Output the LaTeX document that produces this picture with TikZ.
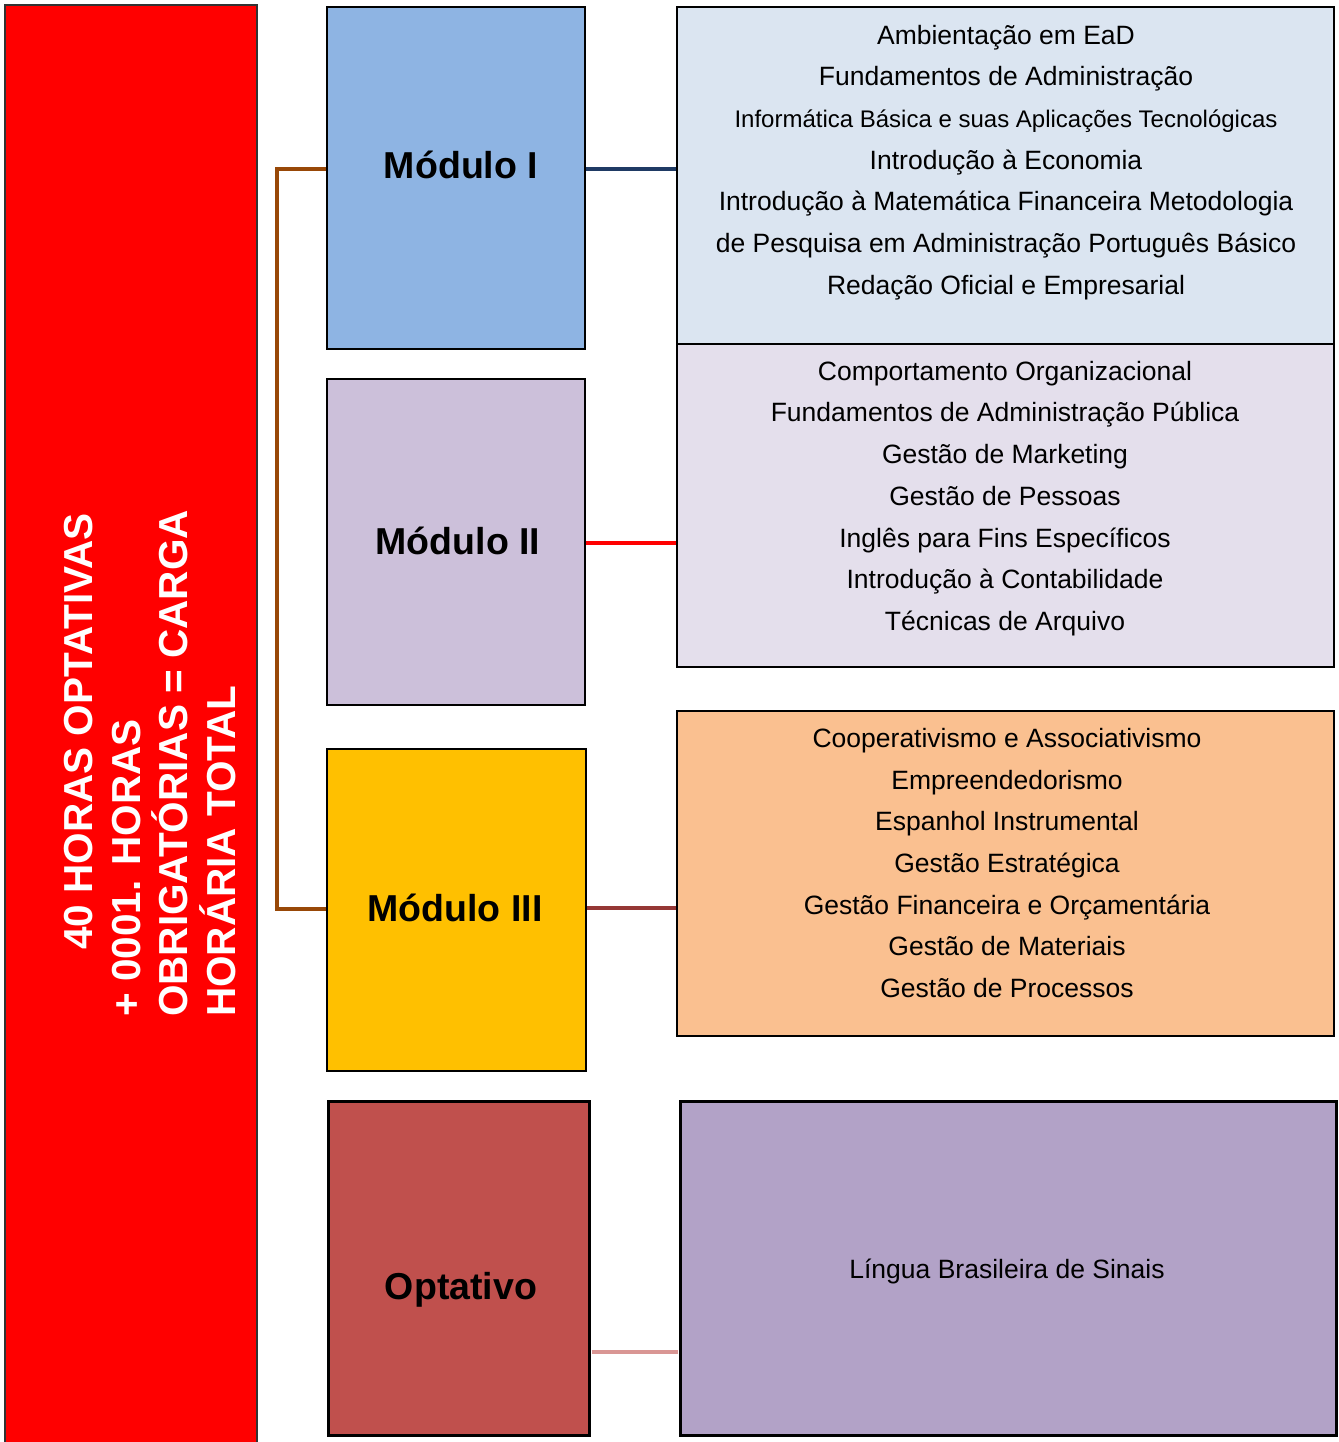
\documentclass[tikz,border=0pt]{standalone}
\usepackage{fontspec}
\setmainfont{Liberation Sans}
\definecolor{barred}{HTML}{FF0000}
\definecolor{mA}{HTML}{8EB4E3}
\definecolor{mB}{HTML}{CCC0DA}
\definecolor{mC}{HTML}{FFC000}
\definecolor{mD}{HTML}{C0504D}
\definecolor{rA}{HTML}{DBE5F1}
\definecolor{rB}{HTML}{E4DFEC}
\definecolor{rC}{HTML}{FAC090}
\definecolor{rD}{HTML}{B2A2C7}
\definecolor{brk}{HTML}{984807}
\definecolor{navy}{HTML}{1F3A64}
\definecolor{dred}{HTML}{953735}
\definecolor{pinkc}{HTML}{D99694}
\tikzset{
  box/.style={draw=black, line width=1.5pt, inner sep=0pt, rectangle},
  thickbox/.style={draw=black, line width=3pt, inner sep=0pt, rectangle},
  modlabel/.style={font=\fontsize{37.5}{45}\selectfont\bfseries, inner sep=0pt},
  listtext/.style={font=\fontsize{26.5}{41.7}\selectfont, align=center, inner sep=0pt},
  bartext/.style={font=\fontsize{40.5}{48}\selectfont\bfseries, text=white, rotate=90, anchor=base west, inner sep=0pt},
  conn/.style={line width=4pt},
}
\begin{document}
\begin{tikzpicture}[x=1pt,y=-1pt]
\useasboundingbox (0,0) rectangle (1338,1442);
% left bar
\node[draw=black!80, line width=1.5pt, fill=barred, minimum width=252pt, minimum height=1440pt, inner sep=0pt] (bar) at (131,725) {};
\node[bartext] (bl1) at (92,950) {40 HORAS OPTATIVAS};
\node[bartext] (bl2) at (140,1017) {+ 0001. HORAS};
\node[bartext] (bl3) at (187,1017) {OBRIGATÓRIAS = CARGA};
\node[bartext] (bl4) at (235,1017) {HORÁRIA TOTAL};
% module boxes
\node[box, fill=mA, minimum width=258pt, minimum height=342pt] (m1) at (456,178) {};
\node[box, fill=mB, minimum width=258pt, minimum height=326pt] (m2) at (456,542) {};
\node[box, fill=mC, minimum width=259pt, minimum height=322pt] (m3) at (456.5,910) {};
\node[thickbox, fill=mD, minimum width=261pt, minimum height=334pt] (m4) at (458.5,1268) {};
\node[modlabel] (l1) at (461,165) {Módulo I};
\node[modlabel] (l2) at (458,541) {Módulo II};
\node[modlabel] (l3) at (455,908) {Módulo III};
\node[modlabel] (l4) at (461,1290) {Optativo};
% right boxes
\node[box, fill=rA, minimum width=657pt, minimum height=337pt] (r1) at (1005.5,175.5) {};
\node[box, fill=rB, minimum width=657pt, minimum height=323pt] (r2) at (1005.5,505.5) {};
\node[box, fill=rC, minimum width=657pt, minimum height=325pt] (r3) at (1005.5,873.5) {};
\node[thickbox, fill=rD, minimum width=656pt, minimum height=334pt] (r4) at (1008,1268) {};
\node[listtext] (t1) at (1006,162.5) {Ambientação em EaD\\
Fundamentos de Administração\\
{\fontsize{24}{41.7}\selectfont Informática Básica e suas Aplicações Tecnológicas}\\
Introdução à Economia\\
Introdução à Matemática Financeira Metodologia\\
de Pesquisa em Administração Português Básico\\
Redação Oficial e Empresarial};
\node[listtext] (t2) at (1005,498.5) {Comportamento Organizacional\\
Fundamentos de Administração Pública\\
Gestão de Marketing\\
Gestão de Pessoas\\
Inglês para Fins Específicos\\
Introdução à Contabilidade\\
Técnicas de Arquivo};
\node[listtext] (t3) at (1007,863) {Cooperativismo e Associativismo\\
Empreendedorismo\\
Espanhol Instrumental\\
Gestão Estratégica\\
Gestão Financeira e Orçamentária\\
Gestão de Materiais\\
Gestão de Processos};
\node[listtext] (t4) at (1007,1271) {Língua Brasileira de Sinais};
% connectors
\coordinate (b1) at (277,169);
\coordinate (b3) at (277,909);
\coordinate (c2) at (630,543);
\coordinate (c3) at (630,908);
\coordinate (c4) at (630,1352);
\draw[conn, brk] (m1.west |- b1) -- (b1) -- (b3) -- (m3.west |- b3);
\draw[conn, navy] (m1.east |- b1) -- (r1.west |- b1);
\draw[conn, red] (m2.east |- c2) -- (r2.west |- c2);
\draw[conn, dred] (m3.east |- c3) -- (r3.west |- c3);
\draw[conn, pinkc] ([xshift=1pt]m4.east |- c4) -- ([xshift=-1pt]r4.west |- c4);
\end{tikzpicture}
\end{document}
